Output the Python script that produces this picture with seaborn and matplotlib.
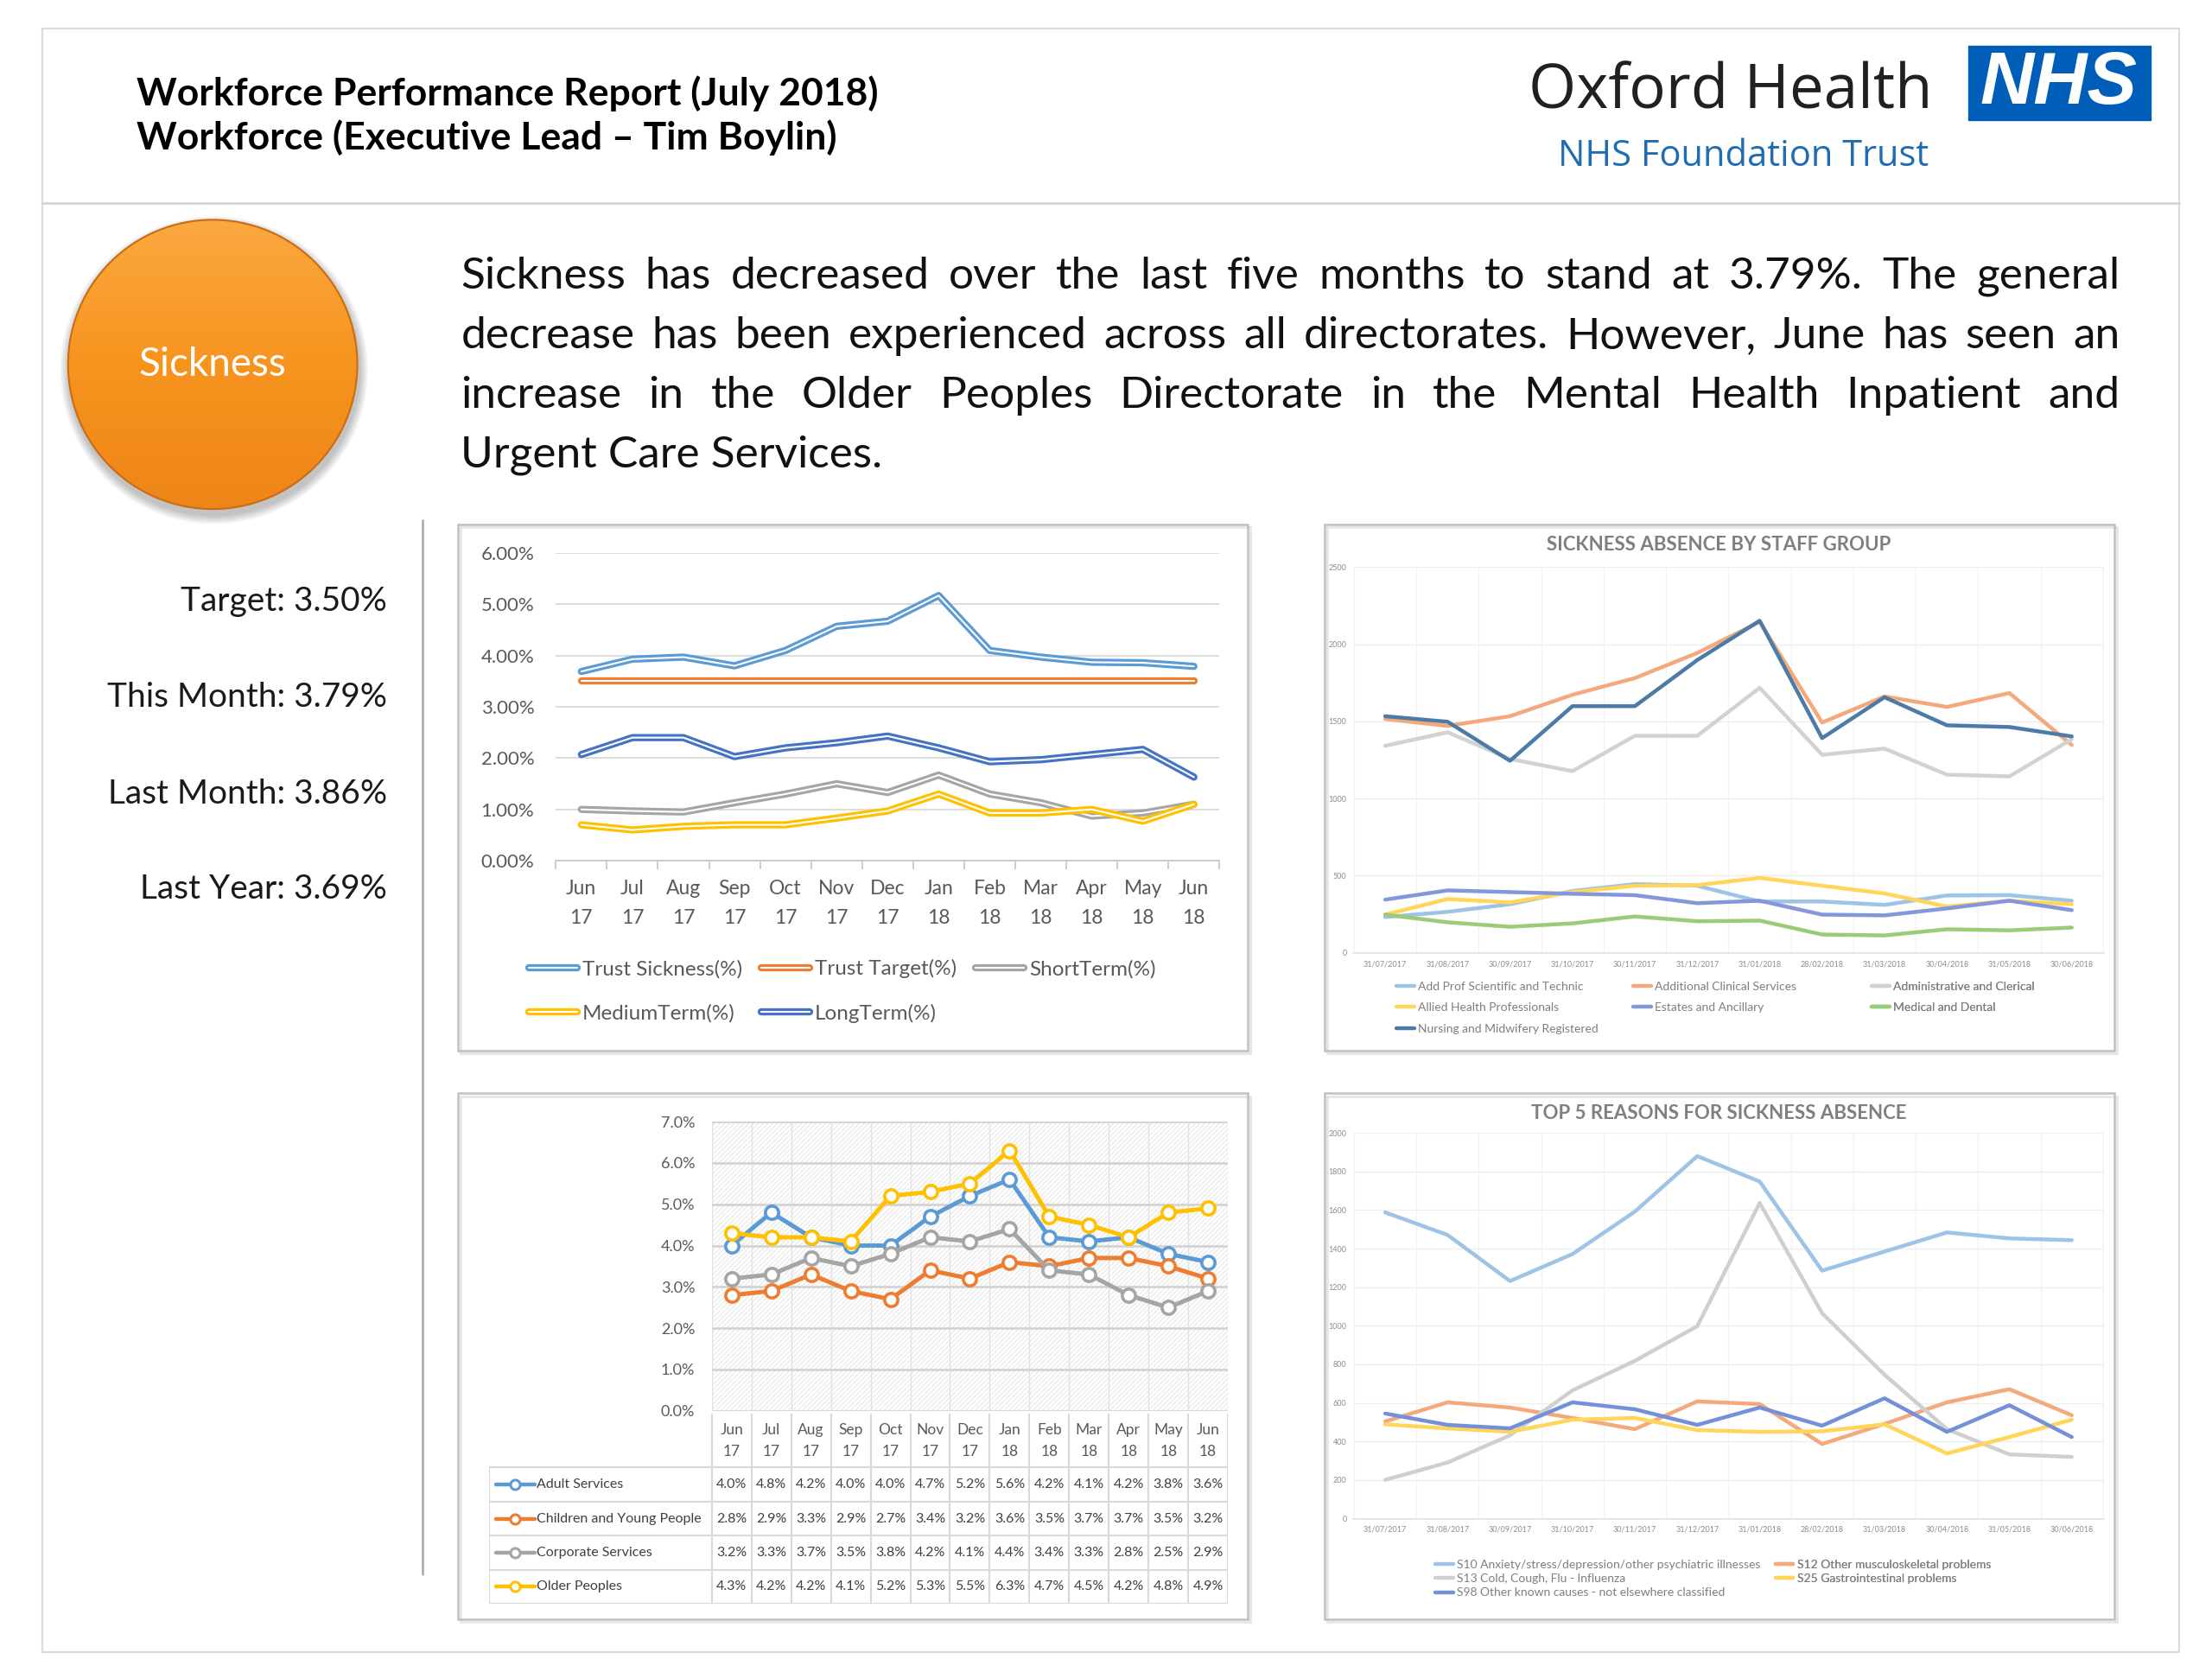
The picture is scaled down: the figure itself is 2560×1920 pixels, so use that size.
import numpy as np
import matplotlib
matplotlib.use("Agg")
import matplotlib.pyplot as plt
import matplotlib.patheffects as pe
from matplotlib.patches import Circle, Rectangle
from matplotlib.lines import Line2D
from matplotlib.colors import LinearSegmentedColormap
from matplotlib.ticker import FuncFormatter
import seaborn as sns

sns.set_theme(style="white")
plt.rcParams["font.family"] = ["Lato", "DejaVu Sans"]
plt.rcParams["hatch.linewidth"] = 0.7

# ---------------- data ----------------
months = ["Jun\n17", "Jul\n17", "Aug\n17", "Sep\n17", "Oct\n17", "Nov\n17", "Dec\n17",
          "Jan\n18", "Feb\n18", "Mar\n18", "Apr\n18", "May\n18", "Jun\n18"]

trust_sickness = [3.69, 3.93, 3.97, 3.80, 4.10, 4.57, 4.67, 5.17, 4.10, 3.97, 3.87, 3.86, 3.79]
trust_target = [3.50, 3.50, 3.50, 3.50, 3.50, 3.50, 3.50, 3.50, 3.50, 3.50, 3.50, 3.50, 3.50]
short_term = [1.00, 0.97, 0.95, 1.13, 1.30, 1.50, 1.33, 1.67, 1.30, 1.13, 0.87, 0.93, 1.10]
medium_term = [0.70, 0.60, 0.67, 0.70, 0.70, 0.83, 0.97, 1.30, 0.93, 0.93, 1.00, 0.77, 1.10]
long_term = [2.07, 2.40, 2.40, 2.03, 2.20, 2.30, 2.43, 2.20, 1.93, 1.97, 2.07, 2.17, 1.63]

month_ends = ["31/07/2017", "31/08/2017", "30/09/2017", "31/10/2017", "30/11/2017", "31/12/2017",
              "31/01/2018", "28/02/2018", "31/03/2018", "30/04/2018", "31/05/2018", "30/06/2018"]

add_prof = [232, 266, 315, 401, 446, 435, 333, 333, 311, 372, 374, 338]
additional_clinical = [1516, 1471, 1534, 1673, 1781, 1944, 2146, 1493, 1662, 1594, 1684, 1347]
admin_clerical = [1342, 1430, 1257, 1178, 1407, 1407, 1718, 1284, 1324, 1155, 1144, 1385]
allied_health = [248, 349, 327, 394, 435, 439, 486, 435, 385, 300, 338, 315]
estates = [345, 405, 394, 383, 374, 322, 338, 248, 243, 288, 338, 277]
medical_dental = [248, 198, 169, 191, 236, 205, 209, 119, 113, 153, 146, 164]
nursing = [1534, 1498, 1245, 1599, 1599, 1898, 2153, 1392, 1657, 1475, 1464, 1403]

s10_anxiety = [1588, 1471, 1232, 1372, 1592, 1880, 1748, 1286, 1385, 1484, 1453, 1444]
s12_musculo = [504, 603, 576, 522, 464, 608, 594, 387, 491, 603, 671, 536]
s13_cold = [201, 291, 432, 665, 818, 998, 1637, 1065, 746, 464, 333, 320]
s25_gastro = [489, 468, 450, 513, 522, 459, 450, 453, 489, 338, 423, 513]
s98_other = [545, 486, 468, 603, 567, 486, 576, 482, 624, 450, 588, 423]

adult_services = [4.0, 4.8, 4.2, 4.0, 4.0, 4.7, 5.2, 5.6, 4.2, 4.1, 4.2, 3.8, 3.6]
children_young = [2.8, 2.9, 3.3, 2.9, 2.7, 3.4, 3.2, 3.6, 3.5, 3.7, 3.7, 3.5, 3.2]
corporate_services = [3.2, 3.3, 3.7, 3.5, 3.8, 4.2, 4.1, 4.4, 3.4, 3.3, 2.8, 2.5, 2.9]
older_peoples = [4.3, 4.2, 4.2, 4.1, 5.2, 5.3, 5.5, 6.3, 4.7, 4.5, 4.2, 4.8, 4.9]

paragraph = [
    "Sickness has decreased over the last five months to stand at 3.79%. The general",
    "decrease has been experienced across all directorates. However, June has seen an",
    "increase in the Older Peoples Directorate in the Mental Health Inpatient and",
    "Urgent Care Services.",
]

# ---------------- layout helpers ----------------
W, H = 1560, 1170
fig = plt.figure(figsize=(25.6, 19.2), dpi=100)
fig.patch.set_facecolor("white")
renderer = fig.canvas.get_renderer()
px_per_unit = fig.get_figwidth() * fig.dpi / W


def box(x0, y0, x1, y1):
    return [x0 / W, 1 - y1 / H, (x1 - x0) / W, (y1 - y0) / H]


def text_width(t):
    return t.get_window_extent(renderer).width / px_per_unit


bg = fig.add_axes([0, 0, 1, 1])
bg.set_xlim(0, W)
bg.set_ylim(H, 0)
bg.axis("off")

# frame, header rule, panels
bg.add_patch(Rectangle((30, 20), 1507, 1145, fill=False, ec="#DADADA", lw=1.5))
bg.plot([30, 1537], [143, 143], color="#D5D5D5", lw=2)
bg.plot([298, 298], [367, 1110], color="#A6A6A6", lw=1.8)
for x0, y0 in [(323, 370), (934, 370), (323, 771), (934, 771)]:
    bg.add_patch(Rectangle((x0 + 2, y0 + 2), 557, 371, fill=False, ec="#E6E6E6", lw=2))
    bg.add_patch(Rectangle((x0, y0), 557, 371, fill=False, ec="#C0C0C0", lw=1.8))

# header
bg.text(96, 66, "Workforce Performance Report (July 2018)", fontsize=32, weight="bold",
        va="center", color="black")
bg.text(96, 97, "Workforce (Executive Lead \u2013 Tim Boylin)", fontsize=32, weight="bold",
        va="center", color="black")
bg.text(1078, 65, "Oxford Health", fontsize=51, family="Open Sans", va="center", color="#231F20")
bg.text(1099, 110, "NHS Foundation Trust", fontsize=30, family="Open Sans", va="center",
        color="#1F6CB0")
bg.add_patch(Rectangle((1388, 32), 129, 53, color="#005EB8"))
bg.text(1452, 60, "NHS", fontsize=62, weight="bold", style="italic", family="Liberation Sans",
        color="white", ha="center", va="center")

# orange circle
cx, cy, r = 150, 257, 102
for k in range(8):
    bg.add_patch(Circle((cx + 1, cy + 4), r + 1 + k * 0.8, color="black", alpha=0.03, lw=0))
grad = np.linspace(0, 1, 256)[:, None]
cmap = LinearSegmentedColormap.from_list("orng", ["#FBA841", "#F7941E", "#EE8518"])
im = bg.imshow(grad, cmap=cmap, extent=(cx - r, cx + r, cy + r, cy - r), aspect="auto",
               origin="upper", zorder=2)
clip = Circle((cx, cy), r, transform=bg.transData)
im.set_clip_path(clip)
bg.add_patch(Circle((cx, cy), r, fill=False, ec="#C96C14", lw=1.5, zorder=3))
bg.text(cx, cy, "Sickness", fontsize=33, color="white", ha="center", va="center", zorder=4)
bg.set_xlim(0, W)
bg.set_ylim(H, 0)

# headline figures
stats = [("Target", trust_target[-1]), ("This Month", trust_sickness[-1]),
         ("Last Month", trust_sickness[-2]), ("Last Year", trust_sickness[0])]
for (label, v), y in zip(stats, [424, 492, 560, 627]):
    bg.text(273, y, f"{label}: {v:.2f}%", ha="right", va="center", fontsize=28, color="#1A1A1A")

# justified paragraph
for i, (line, y) in enumerate(zip(paragraph, [195, 237, 279, 321])):
    if i == len(paragraph) - 1:
        bg.text(325, y, line, fontsize=37, va="center", color="#111111")
        continue
    words = line.split()
    arts = [bg.text(0, y, w, fontsize=37, va="center", color="#111111") for w in words]
    widths = [text_width(a) for a in arts]
    gap = (1495 - 325 - sum(widths)) / (len(words) - 1)
    x = 325
    for a, w in zip(arts, widths):
        a.set_x(x)
        x += w + gap

# ---------------- chart 1: trust sickness ----------------
x13 = np.arange(len(months))
ax1 = fig.add_axes(box(392, 390, 860, 607))
series1 = [("Trust Sickness(%)", trust_sickness, "#5B9BD5"),
           ("Trust Target(%)", trust_target, "#ED7D31"),
           ("ShortTerm(%)", short_term, "#A5A5A5"),
           ("MediumTerm(%)", medium_term, "#FFC000"),
           ("LongTerm(%)", long_term, "#4472C4")]
for label, vals, col in series1:
    sns.lineplot(x=x13, y=vals, ax=ax1, color="white", lw=1.5, label=label,
                 path_effects=[pe.Stroke(linewidth=6, foreground=col), pe.Normal()])
ax1.set_xlim(-0.5, 12.5)
ax1.set_ylim(0, 6)
ax1.set_yticks(range(7))
ax1.yaxis.set_major_formatter(FuncFormatter(lambda v, _: f"{v:.2f}%"))
ax1.set_xticks(x13)
ax1.set_xticklabels(months, linespacing=1.75)
ax1.set_xticks(np.arange(-0.5, 13, 1), minor=True)
ax1.tick_params(axis="x", which="major", length=0, pad=16, labelsize=16.5, labelcolor="#595959")
ax1.tick_params(axis="x", which="minor", bottom=True, length=7, width=1.3, color="#C8C8C8")
ax1.tick_params(axis="y", length=0, pad=18, labelsize=16, labelcolor="#595959")
ax1.grid(axis="y", color="#D9D9D9", lw=1.3)
for s in ["top", "right", "left"]:
    ax1.spines[s].set_visible(False)
ax1.spines["bottom"].set_color("#C8C8C8")
ax1.spines["bottom"].set_linewidth(1.3)
h, l = ax1.get_legend_handles_labels()
order = [0, 3, 1, 4, 2]
ax1.legend([h[i] for i in order], [l[i] for i in order], ncol=3, loc="center",
           bbox_to_anchor=(594 / W, 1 - 699 / H), bbox_transform=fig.transFigure,
           frameon=False, fontsize=17.5, handlelength=2.3, columnspacing=0.9,
           labelspacing=1.2, handletextpad=0.25, labelcolor="#595959")

# ---------------- charts 2 and 4: staff group / reasons ----------------
x12 = np.arange(len(month_ends))


def small_chart(ax, series, ymax, ystep, title, title_y, columns, col_x, y_top,
                fontsize, rowspace):
    for label, vals, col in series:
        sns.lineplot(x=x12, y=vals, ax=ax, color=col, lw=3.2, label=label)
    ax.set_xlim(-0.52, 11.52)
    ax.set_ylim(0, ymax)
    ax.set_yticks(np.arange(0, ymax + 1, ystep))
    ax.set_xticks(x12)
    ax.set_xticklabels(month_ends)
    ax.set_xticks(np.arange(-0.5, 12, 1), minor=True)
    ax.tick_params(axis="x", which="both", length=0, pad=6, labelsize=6.5, labelcolor="#8C8C8C")
    ax.tick_params(axis="y", length=0, pad=5, labelsize=6.5, labelcolor="#8C8C8C")
    ax.grid(axis="y", color="#EFEFEF", lw=1)
    ax.grid(axis="x", which="minor", color="#F3F3F3", lw=1)
    for s in ["top", "right", "left"]:
        ax.spines[s].set_visible(False)
    ax.spines["bottom"].set_color("#E3E3E3")
    bg.text(1212, title_y, title, ha="center", va="center", fontsize=16, weight="bold",
            color="#7F7F7F")
    h, l = ax.get_legend_handles_labels()
    # one legend per column so the columns sit at fixed positions, as in Excel
    for idxs, x0 in zip(columns, col_x):
        leg = ax.legend([h[i] for i in idxs], [l[i] for i in idxs], loc="upper left",
                        bbox_to_anchor=(x0 / W, 1 - y_top / H), bbox_transform=fig.transFigure,
                        frameon=False, fontsize=fontsize, handlelength=1.5, handletextpad=0.3,
                        labelspacing=rowspace, borderpad=0, borderaxespad=0,
                        labelcolor="#7F7F7F")
        ax.add_artist(leg)


ax2 = fig.add_axes(box(954, 400, 1484, 672))
series2 = [("Add Prof Scientific and Technic", add_prof, "#9DC3E6"),
           ("Additional Clinical Services", additional_clinical, "#F4A97C"),
           ("Administrative and Clerical", admin_clerical, "#D2D2D2"),
           ("Allied Health Professionals", allied_health, "#FFD55A"),
           ("Estates and Ancillary", estates, "#8497DB"),
           ("Medical and Dental", medical_dental, "#9ACB78"),
           ("Nursing and Midwifery Registered", nursing, "#4C7BA8")]
small_chart(ax2, series2, 2500, 500, "SICKNESS ABSENCE BY STAFF GROUP", 384,
            [[0, 3, 6], [1, 4], [2, 5]], [985, 1152, 1320], 692, 10, 0.9)

ax4 = fig.add_axes(box(954, 799, 1484, 1071))
series4 = [("S10 Anxiety/stress/depression/other psychiatric illnesses", s10_anxiety, "#9DC3E6"),
           ("S12 Other musculoskeletal problems", s12_musculo, "#F4A97C"),
           ("S13 Cold, Cough, Flu - Influenza", s13_cold, "#CFCFCF"),
           ("S25 Gastrointestinal problems", s25_gastro, "#FFD55A"),
           ("S98 Other known causes - not elsewhere classified", s98_other, "#7390D8")]
small_chart(ax4, series4, 2000, 200, "TOP 5 REASONS FOR SICKNESS ABSENCE", 785,
            [[0, 2, 4], [1, 3]], [1012, 1252], 1100, 10, 0.3)

# ---------------- chart 3: directorates with data table ----------------
ax3 = fig.add_axes(box(502, 791, 866, 995))
ax3.add_patch(Rectangle((0, 0), 1, 1, transform=ax3.transAxes, facecolor="white",
                        edgecolor="#E4E4E4", hatch="//////", lw=0, zorder=0))
series3 = [("Adult Services", adult_services, "#5B9BD5"),
           ("Children and Young People", children_young, "#ED7D31"),
           ("Corporate Services", corporate_services, "#A5A5A5"),
           ("Older Peoples", older_peoples, "#FFC000")]
for label, vals, col in series3:
    sns.lineplot(x=x13, y=vals, ax=ax3, color=col, lw=3.6, marker="o", markersize=11,
                 markerfacecolor="white", markeredgecolor=col, markeredgewidth=2.6, zorder=3)
ax3.set_xlim(-0.5, 12.5)
ax3.set_ylim(0, 7)
ax3.set_yticks(range(8))
ax3.yaxis.set_major_formatter(FuncFormatter(lambda v, _: f"{v:.1f}%"))
ax3.set_xticks(np.arange(-0.5, 13, 1))
ax3.set_xticklabels([])
ax3.tick_params(axis="both", length=0)
ax3.tick_params(axis="y", pad=14, labelsize=13, labelcolor="#595959")
ax3.grid(axis="y", color="#D4D4D4", lw=2)
ax3.grid(axis="x", color="#E2E2E2", lw=1)
for s in ax3.spines.values():
    s.set_visible(False)

# data table below chart 3, sharing its category scale
tb = fig.add_axes(box(345, 997, 866, 1131))
left = -0.5 - 157 / 28
tb.set_xlim(left, 12.5)
tb.set_ylim(1131, 997)
tb.axis("off")
grid_c = "#D9D9D9"
for k in range(14):
    tb.plot([k - 0.5, k - 0.5], [997, 1131], color=grid_c, lw=1.5)
tb.plot([left, left], [1035, 1131], color=grid_c, lw=1.5)
for yy in [1035, 1059, 1083, 1107, 1131]:
    tb.plot([left, 12.5], [yy, yy], color=grid_c, lw=1.5)
for i, m in enumerate(months):
    tb.text(i, 1016, m, ha="center", va="center", fontsize=12.5, color="#595959", linespacing=1.7)
for row, (label, vals, col) in enumerate(series3):
    yc = 1047 + 24 * row
    tb.add_line(Line2D([left + 0.18, left + 1.15], [yc, yc], color=col, lw=3.2, zorder=3))
    tb.plot([left + 0.66], [yc], marker="o", markersize=8, markerfacecolor="white",
            markeredgecolor=col, markeredgewidth=2.2, zorder=4)
    tb.text(left + 1.2, yc, label, ha="left", va="center", fontsize=11.5, color="#404040")
    for i, v in enumerate(vals):
        tb.text(i, yc, f"{v:.1f}%", ha="center", va="center", fontsize=11.5, color="#404040")

fig.savefig("out.png", dpi=100, facecolor="white")
